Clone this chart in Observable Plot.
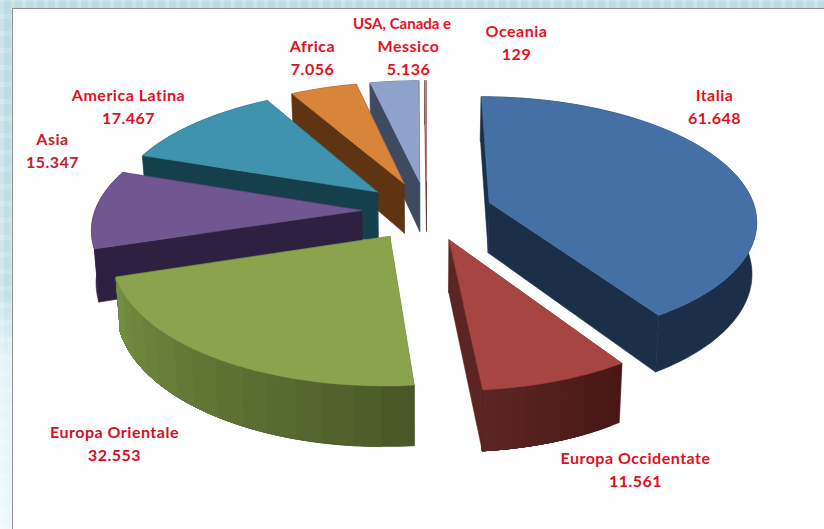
<!DOCTYPE html>
<html><head><meta charset="utf-8">
<style>
html,body{margin:0;padding:0;width:824px;height:529px;overflow:hidden}
body{position:relative;background:
 repeating-linear-gradient(90deg,rgba(255,255,255,.22) 0 4px,transparent 4px 11px),
 repeating-linear-gradient(0deg,rgba(255,255,255,.18) 0 5px,transparent 5px 17px),
 linear-gradient(180deg,#bcdbe2 0,#c3e0e6 55%,#e3f3f7 68%,#eef8fb 100%)}
#panel{position:absolute;left:12px;top:8px;right:-4px;bottom:-4px;background:#fff;border:1px solid #8c9092}
#chart{position:absolute;left:0;top:0}
#chart svg{display:block;background:transparent}
#chart text{letter-spacing:.5px}
</style>
<script src="https://cdn.jsdelivr.net/npm/d3@7"></script>
<script src="https://cdn.jsdelivr.net/npm/@observablehq/plot@0.6"></script>
</head><body><div id="panel"></div><div id="chart"></div>
<script>
const names = ["Italia","Europa Occidentate","Europa Orientale","Asia","America Latina","Africa","USA, Canada e\nMessico","Oceania"];
const values = [61648,11561,32553,15347,17467,7056,5136,129];

// styles
const topColors = ["#4470a6","#a64542","#8ba34d","#715791","#3f93ae","#d8843b","#8fa2cb","#b98a86"];
const rimStart  = ["#1b2f49","#471816","#495827","#2e2040","#163f4c","#5e3413","#3e4a60","#6b3a38"];
const rimEnd    = ["#1b2f49","#5c2523","#768f41","#2e2040","#163f4c","#5e3413","#3e4a60","#6b3a38"];
const paintOrder = [7,6,5,4,3,2,0,1];
const labelX = [714,635,114,52,128,312,408,516];
const labelY = [105,468,442,149,105,56,43,41];
const labelColor = ["#e0101f","#e0101f","#d0101f","#c2202c","#e0101f","#e0101f","#e8101f","#e8101f"];

// camera of the tilted, exploded pie
const cam = {px:422, horizon:-700, b:.2925, k:.000147, z0:.0010986, cx:.0164, explode:.2465, h:.056, converge:.014};
function project(u, v, lift) {
  const s = 1 / (cam.z0 + cam.k * v);
  return {
    x: cam.px + cam.b * (cam.cx + u) * s * (1 - lift * cam.converge),
    y: cam.horizon + s * (1 + lift * cam.h)
  };
}

const total = d3.sum(values);
const fmt = d3.formatLocale({decimal:",",thousands:".",grouping:[3],currency:["",""]}).format(",d");
let acc = 0;
const slices = values.map((v,i) => {
  const a0 = acc / total * 2 * Math.PI; acc += v;
  const a1 = acc / total * 2 * Math.PI;
  const mid = (a0 + a1) / 2;
  return {i, a0, a1, ox: cam.explode * Math.sin(mid), oy: cam.explode * Math.cos(mid)};
});

const polys = [];
let pid = 0;
function addPoly(points, color) {
  const id = pid++;
  for (const p of points) polys.push({id, color, x:p.x, y:p.y});
}
for (const idx of paintOrder) {
  const s = slices[idx];
  const rim = (a, lift) => project(s.ox + Math.sin(a), s.oy + Math.cos(a), lift);
  const apex = lift => project(s.ox, s.oy, lift);
  addPoly([apex(0), rim(s.a0,0), rim(s.a0,1), apex(1)], rimStart[idx]);
  addPoly([apex(0), rim(s.a1,0), rim(s.a1,1), apex(1)], rimEnd[idx]);
  const n = Math.max(1, Math.ceil((s.a1 - s.a0) / (1 * Math.PI / 180)));
  const ang = j => s.a0 + (s.a1 - s.a0) * j / n;
  const mix = d3.interpolateRgb(rimStart[idx], rimEnd[idx]);
  const whole = [];
  for (let j = 0; j <= n; j++) whole.push(rim(ang(j),0));
  for (let j = n; j >= 0; j--) whole.push(rim(ang(j),1));
  addPoly(whole, rimStart[idx]);
  if (rimStart[idx] !== rimEnd[idx]) {
    const bands = 14;
    for (let b = 1; b < bands; b++) {
      const pts = [], j0 = Math.round(n * b / bands);
      for (let j = j0; j <= n; j++) pts.push(rim(ang(j),0));
      for (let j = n; j >= j0; j--) pts.push(rim(ang(j),1));
      addPoly(pts, mix((b + .5) / bands));
    }
  }
  const top = [apex(0)];
  for (let j = 0; j <= n; j++) top.push(rim(ang(j),0));
  addPoly(top, topColors[idx]);
}

const labels = names.map((n,i) => ({text: n + "\n" + fmt(values[i]), x: labelX[i], y: labelY[i], color: labelColor[i]}));

const plot = Plot.plot({
  width: 824, height: 529, margin: 0,
  x: {domain:[0,824], range:[0,824], axis:null},
  y: {domain:[0,529], range:[0,529], axis:null},
  color: {type:"identity"},
  style: {background:"transparent"},
  marks: [
    Plot.line(polys, {x:"x", y:"y", z:"id", fill:"color", stroke:"color", strokeWidth:.6, curve:"linear-closed"}),
    Plot.text(labels, {x:"x", y:"y", text:"text", fill:"color", fontSize:16, fontWeight:700, fontFamily:"Lato", lineHeight:1.43, textAnchor:"middle", frameAnchor:"middle"})
  ]
});
document.getElementById("chart").appendChild(plot);
// the first line of the long label sits tighter and further left in the reference
for (const t of plot.querySelectorAll("tspan")) {
  if (t.textContent.startsWith("USA")) {
    t.setAttribute("x", "-6.5");
    t.style.fontSize = "15px";
    t.style.letterSpacing = "0";
  }
}
</script></body></html>
